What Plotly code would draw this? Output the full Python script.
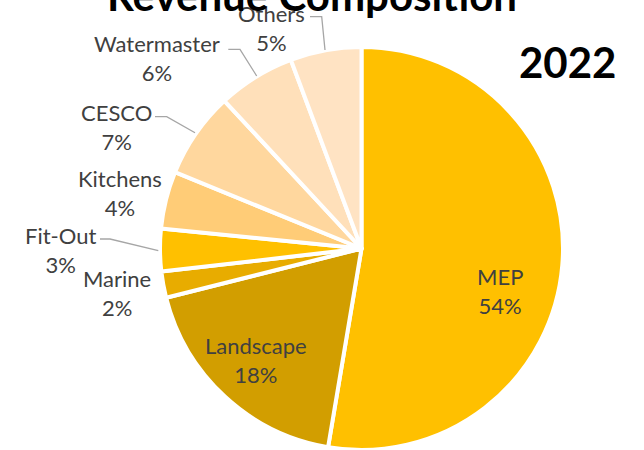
import plotly.graph_objects as go

# ---- data ----
categories = ["MEP", "Landscape", "Marine", "Fit-Out", "Kitchens", "CESCO", "Watermaster", "Others"]
shares = [52.6, 18.4, 2.1, 3.4, 4.6, 6.9, 6.2, 5.7]          # slice sizes as drawn
pct_text = ["54%", "18%", "2%", "3%", "4%", "7%", "6%", "5%"]  # printed labels
colors = ["#FFC000", "#D29E00", "#E8AC00", "#FFC000", "#FFCC77", "#FFD79E", "#FFE0BA", "#FFE3C3"]

W, H = 644, 450
def px(x):
    return x / W
def py(y):
    return 1 - y / H

# pie geometry (pixels)
cx, cy, r = 361.5, 248.5, 201.5

fig = go.Figure(go.Pie(
    labels=categories,
    values=shares,
    sort=False,
    direction="clockwise",
    rotation=0,
    marker=dict(colors=colors, line=dict(color="white", width=4)),
    textinfo="none",
    hoverinfo="label+percent",
    showlegend=False,
    domain=dict(x=[px(cx - r), px(cx + r)], y=[py(cy + r), py(cy - r)]),
))

# label placement: (center x, top of first-line caps) in pixels
label_pos = {
    "MEP": (500, 268),
    "Landscape": (256, 337),
    "Marine": (117, 270),
    "Fit-Out": (60, 227),
    "Kitchens": (120, 170),
    "CESCO": (116, 104),
    "Watermaster": (157, 35),
    "Others": (271, 5),
}
FS = 22
annotations = []
for cat, pct in zip(categories, pct_text):
    x, ytop = label_pos[cat]
    annotations.append(dict(
        x=px(x), y=py(ytop - 7), xref="paper", yref="paper",
        xanchor="center", yanchor="top", showarrow=False,
        text=f"{cat}<br>{pct}",
        font=dict(family="Lato", size=FS, color="#404040"),
    ))

# title and year
annotations.append(dict(
    x=px(311.5), y=py(22), xref="paper", yref="paper",
    xanchor="center", yanchor="bottom", showarrow=False,
    text="<b>Revenue Composition</b>",
    font=dict(family="Lato", size=42, color="#000000"),
))
annotations.append(dict(
    x=px(567.5), y=py(35), xref="paper", yref="paper",
    xanchor="center", yanchor="top", showarrow=False,
    text="<b>2022</b>",
    font=dict(family="Lato", size=42, color="#000000"),
))

# leader lines (pixels)
leaders = [
    [(310, 16.7), (321.7, 16.7), (325, 50)],
    [(228.3, 49.3), (240, 49.3), (256.7, 76)],
    [(155, 116.7), (166.7, 116.7), (195, 132.7)],
    [(100, 239), (110, 239), (158.3, 250.7)],
]
shapes = []
for pts in leaders:
    path = "M " + " L ".join(f"{px(x):.5f},{py(y):.5f}" for x, y in pts)
    shapes.append(dict(type="path", path=path, xref="paper", yref="paper",
                       line=dict(color="#A6A6A6", width=1.3)))

fig.update_layout(
    width=W, height=H,
    margin=dict(l=0, r=0, t=0, b=0),
    paper_bgcolor="white", plot_bgcolor="white",
    annotations=annotations,
    shapes=shapes,
)

fig.write_html("out.html")
